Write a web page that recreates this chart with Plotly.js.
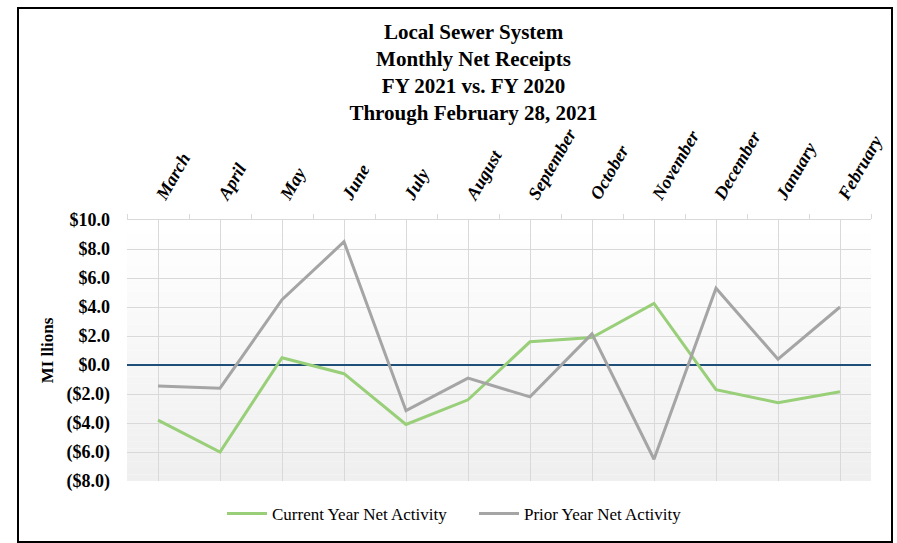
<!DOCTYPE html>
<html>
<head>
<meta charset="utf-8">
<script src="https://cdn.plot.ly/plotly-3.0.1.min.js"></script>
<style>
html,body{margin:0;padding:0;background:#fff;}
#chart{width:897px;height:543px;}
</style>
</head>
<body>
<div id="chart"></div>
<script>
const months = ["March","April","May","June","July","August","September","October","November","December","January","February"];
const currentYear = [-3.8, -6.0, 0.5, -0.6, -4.1, -2.4, 1.6, 1.9, 4.25, -1.7, -2.6, -1.85];
const priorYear = [-1.45, -1.6, 4.5, 8.5, -3.15, -0.9, -2.2, 2.15, -6.5, 5.3, 0.4, 4.0];
const yTickVals = [-8, -6, -4, -2, 0, 2, 4, 6, 8, 10];
const yTickText = ["($8.0)","($6.0)","($4.0)","($2.0)","$0.0","$2.0","$4.0","$6.0","$8.0","$10.0"];
const titleLines = ["Local Sewer System","Monthly Net Receipts","FY 2021 vs. FY 2020","Through February 28, 2021"];

const serif = "Liberation Serif, Times New Roman, serif";

const traces = [
  {
    x: months, y: currentYear, type: "scatter", mode: "lines",
    name: "Current Year Net Activity",
    line: {color: "#98cf78", width: 3},
    xaxis: "x", yaxis: "y", hoverinfo: "skip"
  },
  {
    x: months, y: priorYear, type: "scatter", mode: "lines",
    name: "Prior Year Net Activity",
    line: {color: "#a5a5a5", width: 3},
    xaxis: "x2", yaxis: "y", hoverinfo: "skip"
  }
];

// vertical gradient background of the plot area
const shapes = [];
const bands = 40;
for (let i = 0; i < bands; i++) {
  const t = i / (bands - 1);
  const c = Math.round(255 - 16 * t);
  shapes.push({
    type: "rect", xref: "paper", yref: "paper", layer: "below",
    x0: 0, x1: 1, y0: 1 - (i + 1) / bands, y1: 1 - i / bands,
    line: {width: 0}, fillcolor: `rgb(${c},${c},${c})`
  });
}
// outer frame
shapes.push({
  type: "rect", xref: "paper", yref: "paper", layer: "above",
  x0: -109/744, x1: 765/744, y0: (481-542)/261, y1: (481-8)/261,
  line: {color: "#000", width: 2}, fillcolor: "rgba(0,0,0,0)"
});

const layout = {
  width: 897, height: 543,
  margin: {l: 127, r: 26, t: 220, b: 62},
  paper_bgcolor: "#ffffff",
  plot_bgcolor: "rgba(0,0,0,0)",
  showlegend: true,
  title: {
    text: titleLines.join("<br>"),
    font: {family: serif, size: 21, color: "#000", weight: "bold"},
    x: 473.5/897, xanchor: "center", xref: "container",
    y: 1 - 38.5/543, yanchor: "middle", yref: "container"
  },
  xaxis: {
    type: "category", side: "top", range: [-0.5, 11.5],
    showgrid: true, gridcolor: "#d9d9d9", gridwidth: 1,
    ticks: "", showline: false, zeroline: false,
    tickangle: -60, ticklabelstandoff: 10,
    tickfont: {family: serif, size: 18, color: "#000", weight: "bold", style: "italic"},
    automargin: false, fixedrange: true
  },
  xaxis2: {
    type: "category", side: "top", overlaying: "x", range: [-0.5, 11.5],
    showgrid: false, showticklabels: false, tickson: "boundaries",
    ticks: "outside", ticklen: 5, tickcolor: "#d9d9d9", tickwidth: 1,
    showline: true, linecolor: "#d9d9d9", linewidth: 1,
    zeroline: false, automargin: false, fixedrange: true
  },
  yaxis: {
    range: [-8, 10],
    tickvals: yTickVals, ticktext: yTickText,
    showgrid: true, gridcolor: "#d9d9d9", gridwidth: 1,
    zeroline: true, zerolinecolor: "#1f4e79", zerolinewidth: 2,
    showline: false, ticks: "",
    ticklabelstandoff: 16,
    tickfont: {family: serif, size: 18, color: "#000", weight: "bold"},
    title: {text: "MI llions", font: {family: serif, size: 17, color: "#000", weight: "bold"}, standoff: 8},
    automargin: false, fixedrange: true
  },
  legend: {
    orientation: "h", xref: "container", yref: "container",
    x: 222/897, xanchor: "left", y: 1 - 514/543, yanchor: "middle",
    font: {family: serif, size: 17, color: "#000"},
    bgcolor: "rgba(0,0,0,0)", itemwidth: 40, tracegroupgap: 0,
    entrywidth: 197, entrywidthmode: "pixels"
  },
  shapes: shapes
};

Plotly.newPlot("chart", traces, layout, {displayModeBar: false, staticPlot: true});
</script>
</body>
</html>
